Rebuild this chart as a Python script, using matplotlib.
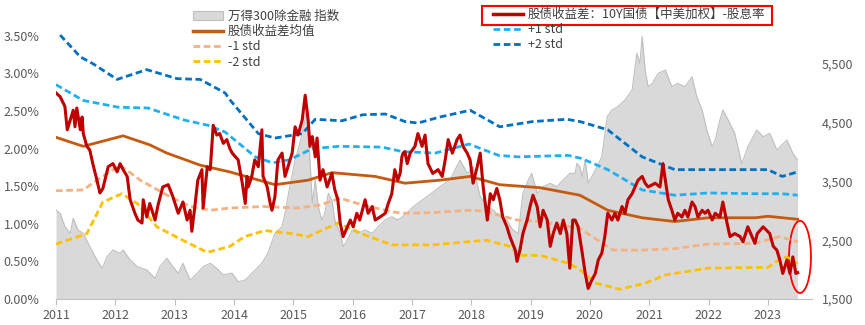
import matplotlib
matplotlib.use('Agg')
import matplotlib.pyplot as plt
from matplotlib.patches import Rectangle, Ellipse, Patch
from matplotlib.lines import Line2D
from matplotlib.ticker import FuncFormatter

plt.rcParams['font.family'] = ['Noto Sans CJK SC', 'DejaVu Sans']

# ---------------- data ----------------
years = list(range(2011, 2024))
year_labels = [str(y) for y in years]
left_ticks = [0.0, 0.5, 1.0, 1.5, 2.0, 2.5, 3.0, 3.5]
right_ticks = [1500, 2500, 3500, 4500, 5500]

# 万得300除金融 指数 (right axis)
idx_t = [2011.00, 2011.07, 2011.15, 2011.24, 2011.29, 2011.37, 2011.46, 2011.57, 2011.69, 2011.78,
         2011.86, 2011.96, 2012.08, 2012.13, 2012.25, 2012.37, 2012.53, 2012.67, 2012.75, 2012.87,
         2012.97, 2013.06, 2013.14, 2013.26, 2013.38, 2013.48, 2013.60, 2013.71, 2013.82, 2013.93,
         2013.97, 2014.07, 2014.19, 2014.30, 2014.47, 2014.57, 2014.69, 2014.81, 2014.86, 2014.94,
         2015.03, 2015.11, 2015.16, 2015.23, 2015.26, 2015.32, 2015.37, 2015.42, 2015.48, 2015.53,
         2015.59, 2015.65, 2015.70, 2015.79, 2015.84, 2015.91, 2015.99, 2016.09, 2016.21, 2016.33,
         2016.43, 2016.55, 2016.66, 2016.76, 2016.88, 2017.02, 2017.25, 2017.47, 2017.64, 2017.81,
         2017.93, 2018.03, 2018.15, 2018.27, 2018.37, 2018.48, 2018.60, 2018.70, 2018.79, 2018.87,
         2018.96, 2019.02, 2019.11, 2019.21, 2019.33, 2019.44, 2019.55, 2019.66, 2019.75, 2019.78,
         2019.83, 2019.87, 2019.92, 2019.97, 2020.03, 2020.09, 2020.20, 2020.29, 2020.37, 2020.47,
         2020.59, 2020.71, 2020.79, 2020.84, 2020.88, 2020.93, 2020.98, 2021.05, 2021.15, 2021.27,
         2021.38, 2021.48, 2021.60, 2021.72, 2021.80, 2021.89, 2021.97, 2022.06, 2022.11, 2022.19,
         2022.24, 2022.33, 2022.44, 2022.56, 2022.66, 2022.81, 2022.92, 2023.03, 2023.15, 2023.32,
         2023.42, 2023.50]
idx_v = [3015, 2959, 2731, 2618, 2874, 2674, 2618, 2390, 2164, 2022,
         2220, 2334, 2278, 2334, 2164, 2050, 1994, 1852, 2050, 2193,
         2050, 1937, 2108, 1823, 1937, 2050, 2108, 2022, 1908, 1937,
         1937, 1794, 1823, 1937, 2108, 2278, 2618, 2731, 2959, 3411,
         3866, 4150, 4376, 4717, 4262, 3129, 3526, 3071, 2845, 2959,
         3299, 3185, 2845, 2618, 2390, 2504, 2674, 2618, 2674, 2618,
         2731, 2845, 2901, 2845, 2930, 3071, 3241, 3411, 3526, 3866,
         3639, 3752, 3241, 3071, 3015, 2901, 2845, 2674, 2618, 3299,
         3526, 3639, 3299, 3411, 3469, 3411, 3526, 3639, 3639, 3809,
         3752, 3582, 3866, 3469, 3582, 3696, 3922, 4603, 4717, 4773,
         4887, 5057, 5682, 5511, 5965, 5398, 5114, 5170, 5341, 5398,
         5114, 5170, 5114, 5284, 4944, 4717, 4376, 4092, 4206, 4547,
         4717, 4547, 4320, 3800, 4092, 4376, 4262, 4320, 4036, 4206,
         3980, 3866]

# 股债收益差 (%)
spread_t = [2011.00, 2011.07, 2011.15, 2011.19, 2011.24, 2011.29, 2011.32, 2011.35, 2011.41, 2011.44,
            2011.46, 2011.52, 2011.57, 2011.62, 2011.69, 2011.74, 2011.79, 2011.88, 2011.96, 2012.03,
            2012.08, 2012.13, 2012.20, 2012.25, 2012.33, 2012.38, 2012.45, 2012.47, 2012.53, 2012.58,
            2012.67, 2012.72, 2012.80, 2012.89, 2012.97, 2013.06, 2013.14, 2013.21, 2013.26, 2013.29,
            2013.34, 2013.39, 2013.46, 2013.48, 2013.55, 2013.60, 2013.65, 2013.71, 2013.76, 2013.82,
            2013.88, 2013.93, 2013.97, 2014.07, 2014.14, 2014.19, 2014.22, 2014.24, 2014.30, 2014.35,
            2014.41, 2014.47, 2014.49, 2014.56, 2014.61, 2014.64, 2014.69, 2014.74, 2014.81, 2014.86,
            2014.91, 2014.98, 2015.03, 2015.08, 2015.15, 2015.20, 2015.25, 2015.28, 2015.32, 2015.37,
            2015.40, 2015.45, 2015.50, 2015.57, 2015.65, 2015.70, 2015.75, 2015.79, 2015.84, 2015.91,
            2015.96, 2016.01, 2016.07, 2016.12, 2016.21, 2016.26, 2016.33, 2016.38, 2016.46, 2016.55,
            2016.60, 2016.66, 2016.71, 2016.76, 2016.80, 2016.83, 2016.85, 2016.88, 2016.92, 2016.97,
            2017.05, 2017.10, 2017.17, 2017.22, 2017.27, 2017.35, 2017.44, 2017.51, 2017.56, 2017.61,
            2017.68, 2017.76, 2017.81, 2017.86, 2017.93, 2017.98, 2018.03, 2018.10, 2018.15, 2018.20,
            2018.27, 2018.32, 2018.37, 2018.43, 2018.48, 2018.53, 2018.60, 2018.65, 2018.74, 2018.77,
            2018.82, 2018.87, 2018.94, 2018.99, 2019.04, 2019.11, 2019.16, 2019.21, 2019.28, 2019.33,
            2019.38, 2019.44, 2019.50, 2019.55, 2019.61, 2019.66, 2019.71, 2019.75, 2019.80, 2019.87,
            2019.92, 2019.97, 2020.03, 2020.09, 2020.14, 2020.20, 2020.25, 2020.30, 2020.37, 2020.42,
            2020.47, 2020.54, 2020.59, 2020.64, 2020.71, 2020.76, 2020.81, 2020.88, 2020.93, 2020.98,
            2021.10, 2021.18, 2021.23, 2021.27, 2021.32, 2021.38, 2021.43, 2021.48, 2021.55, 2021.60,
            2021.65, 2021.72, 2021.77, 2021.82, 2021.89, 2021.94, 2021.99, 2022.06, 2022.11, 2022.19,
            2022.24, 2022.31, 2022.36, 2022.44, 2022.53, 2022.58, 2022.66, 2022.73, 2022.78, 2022.82,
            2022.92, 2023.03, 2023.09, 2023.15, 2023.20, 2023.25, 2023.32, 2023.37, 2023.42, 2023.47,
            2023.50]
spread_v = [2.74, 2.69, 2.56, 2.25, 2.38, 2.51, 2.29, 2.54, 2.25, 2.42,
            2.20, 2.03, 1.98, 1.80, 1.58, 1.41, 1.47, 1.76, 1.80, 1.69,
            1.80, 1.72, 1.63, 1.32, 1.14, 1.05, 1.01, 1.32, 1.09, 1.27,
            1.05, 1.25, 1.49, 1.52, 1.36, 1.14, 1.29, 1.05, 1.18, 0.90,
            1.23, 1.58, 1.72, 1.21, 1.76, 1.72, 2.31, 2.18, 2.20, 2.07,
            2.12, 2.00, 1.94, 1.85, 1.54, 1.27, 1.63, 1.49, 1.63, 1.85,
            1.76, 2.25, 1.63, 1.49, 1.27, 1.18, 1.36, 1.85, 1.94, 1.63,
            1.76, 1.94, 2.29, 2.18, 2.38, 2.71, 2.38, 2.03, 2.16, 1.89,
            2.14, 1.58, 1.72, 1.49, 1.67, 1.45, 1.32, 1.01, 0.83, 0.96,
            1.05, 0.96, 1.14, 1.05, 1.32, 1.14, 1.23, 1.05, 1.09, 1.14,
            1.27, 1.40, 1.72, 1.58, 1.67, 1.89, 1.94, 1.96, 1.80, 1.94,
            2.03, 2.20, 2.03, 2.18, 1.80, 1.67, 1.72, 1.63, 1.85, 2.12,
            1.94, 2.12, 2.18, 2.03, 1.94, 1.85, 1.54, 1.76, 1.94, 1.49,
            1.05, 1.40, 1.32, 1.47, 1.32, 1.09, 0.96, 0.83, 0.65, 0.50,
            0.65, 0.87, 1.05, 1.23, 1.38, 1.23, 0.96, 1.18, 1.05, 0.70,
            0.87, 1.01, 0.87, 1.05, 0.87, 0.41, 1.05, 1.05, 0.96, 0.61,
            0.34, 0.14, 0.25, 0.34, 0.52, 0.61, 0.83, 1.14, 1.05, 1.14,
            1.05, 1.23, 1.14, 1.32, 1.40, 1.49, 1.58, 1.63, 1.54, 1.49,
            1.54, 1.49, 1.80, 1.58, 1.32, 1.18, 1.05, 1.14, 1.09, 1.18,
            1.09, 1.29, 1.23, 1.09, 1.18, 1.14, 1.18, 1.05, 1.14, 1.09,
            1.29, 1.01, 0.83, 0.87, 0.83, 0.76, 0.96, 0.83, 0.74, 0.87,
            0.96, 0.87, 0.70, 0.65, 0.52, 0.34, 0.52, 0.34, 0.56, 0.34,
            0.35]

mean_t = [2011.00, 2011.46, 2012.13, 2012.58, 2012.87, 2013.43, 2013.93, 2014.69, 2015.25, 2015.65,
          2016.38, 2016.88, 2017.47, 2017.98, 2018.48, 2019.16, 2019.83, 2020.30, 2020.88, 2021.43,
          2021.99, 2022.78, 2023.00, 2023.50]
mean_v = [2.15, 2.03, 2.17, 2.05, 1.94, 1.78, 1.69, 1.52, 1.58, 1.68,
          1.63, 1.54, 1.58, 1.63, 1.52, 1.48, 1.38, 1.18, 1.08, 1.03,
          1.08, 1.08, 1.10, 1.06]

p1_t = [2011.00, 2011.46, 2012.05, 2012.55, 2013.16, 2013.56, 2013.85, 2014.36, 2014.65, 2014.93,
        2015.32, 2015.77, 2016.49, 2016.84, 2017.39, 2017.96, 2018.46, 2018.79, 2019.63, 2019.85,
        2020.30, 2020.88, 2021.43, 2021.99, 2022.78, 2023.24, 2023.50]
p1_v = [2.85, 2.64, 2.55, 2.54, 2.38, 2.31, 2.22, 1.89, 1.81, 1.85,
        2.00, 2.03, 2.02, 1.96, 1.94, 2.06, 1.91, 1.89, 1.91, 1.87,
        1.72, 1.45, 1.38, 1.41, 1.40, 1.40, 1.38]

p2_t = [2011.07, 2011.41, 2011.62, 2012.03, 2012.53, 2013.04, 2013.43, 2013.85, 2013.93, 2014.41,
        2014.69, 2015.15, 2015.37, 2015.82, 2016.17, 2016.55, 2016.88, 2017.10, 2017.47, 2017.98,
        2018.48, 2019.04, 2019.61, 2019.83, 2020.30, 2020.88, 2021.43, 2021.99, 2022.78, 2023.00,
        2023.24, 2023.50]
p2_v = [3.51, 3.22, 3.13, 2.92, 3.05, 2.93, 2.92, 2.74, 2.65, 2.20,
        2.14, 2.20, 2.39, 2.37, 2.45, 2.46, 2.36, 2.34, 2.42, 2.51,
        2.29, 2.36, 2.39, 2.36, 2.25, 1.89, 1.72, 1.72, 1.72, 1.72,
        1.63, 1.69]

m1_t = [2011.00, 2011.46, 2011.69, 2012.08, 2012.42, 2012.92, 2013.26, 2013.60, 2013.93, 2014.49,
        2015.07, 2015.45, 2015.79, 2016.17, 2016.66, 2016.84, 2017.39, 2017.96, 2018.21, 2018.77,
        2019.16, 2019.83, 2020.17, 2020.40, 2020.88, 2021.43, 2021.99, 2022.78, 2023.20, 2023.50]
m1_v = [1.44, 1.45, 1.58, 1.78, 1.58, 1.36, 1.23, 1.18, 1.21, 1.23,
        1.21, 1.25, 1.34, 1.25, 1.16, 1.14, 1.15, 1.18, 1.17, 1.05,
        1.03, 0.94, 0.76, 0.65, 0.65, 0.67, 0.73, 0.74, 0.83, 0.76]

m2_t = [2011.00, 2011.52, 2011.79, 2012.11, 2012.37, 2012.70, 2013.14, 2013.55, 2013.93, 2014.18,
        2014.52, 2014.98, 2015.25, 2015.75, 2016.21, 2016.66, 2017.35, 2017.93, 2018.26, 2018.65,
        2018.82, 2019.16, 2019.66, 2019.85, 2020.10, 2020.50, 2020.93, 2021.27, 2021.99, 2022.78,
        2023.00, 2023.20, 2023.32, 2023.50]
m2_v = [0.73, 0.87, 1.29, 1.40, 1.27, 0.96, 0.78, 0.62, 0.70, 0.83,
        0.91, 0.87, 0.83, 1.01, 0.85, 0.72, 0.72, 0.76, 0.78, 0.70,
        0.58, 0.58, 0.47, 0.38, 0.21, 0.13, 0.21, 0.32, 0.41, 0.42,
        0.42, 0.53, 0.56, 0.47]

# ---------------- figure ----------------
W, H = 865, 325
fig = plt.figure(figsize=(W / 100, H / 100), dpi=100)
ax = fig.add_axes([56 / W, 26 / H, 756 / W, 282 / H])
ax2 = ax.twinx()
ax.set_zorder(ax2.get_zorder() + 1)
ax.patch.set_visible(False)

ax2.fill_between(idx_t, idx_v, 1500, color='#D9D9D9', lw=0)
ax2.plot(idx_t, idx_v, color='#BFBFBF', lw=0.8)

dash = (0, (2.4, 1.3))
ax.plot(m2_t, m2_v, color='#FFC000', lw=2, ls=dash)
ax.plot(m1_t, m1_v, color='#F4B183', lw=2, ls=dash)
ax.plot(p1_t, p1_v, color='#1FB0EE', lw=2, ls=dash)
ax.plot(p2_t, p2_v, color='#0070C0', lw=2, ls=dash)
ax.plot(mean_t, mean_v, color='#C55A11', lw=2)
ax.plot(spread_t, spread_v, color='#C00000', lw=2.2)

ax.set_xlim(2011, 2011 + 756 / 59.33)
ax.set_ylim(0, 3.75)
ax2.set_ylim(1500, 6300)

tc = '#595959'
ax.set_yticks(left_ticks)
ax.yaxis.set_major_formatter(FuncFormatter(lambda v, p: f"{v:.2f}%"))
ax2.set_yticks(right_ticks)
ax2.yaxis.set_major_formatter(FuncFormatter(lambda v, p: f"{int(v):,}"))
ax.set_xticks(years)
ax.set_xticklabels(year_labels)

ax.tick_params(axis='y', length=0, pad=12, labelsize=9, labelcolor=tc)
ax2.tick_params(axis='y', length=0, pad=7, labelsize=9, labelcolor=tc)
ax.tick_params(axis='x', length=4, color='#BFBFBF', pad=3, labelsize=9, labelcolor=tc)
for a in (ax, ax2):
    for s in ('top', 'left', 'right', 'bottom'):
        a.spines[s].set_visible(False)
ax.spines['bottom'].set_visible(True)
ax.spines['bottom'].set_color('#BFBFBF')

# red ellipse highlight
ax.add_patch(Ellipse((2023.54, 0.56), 0.37, 0.96, fill=False, ec='#FF0000', lw=1.3, clip_on=False))

# legends
h1 = [Patch(fc='#D9D9D9', ec='#BFBFBF', lw=0.8),
      Line2D([], [], color='#C55A11', lw=2.5),
      Line2D([], [], color='#F4B183', lw=2, ls=dash),
      Line2D([], [], color='#FFC000', lw=2, ls=dash)]
l1 = ['万得300除金融 指数', '股债收益差均值', '-1 std', '-2 std']
h2 = [Line2D([], [], color='#C00000', lw=2.5),
      Line2D([], [], color='#1FB0EE', lw=2, ls=dash),
      Line2D([], [], color='#0070C0', lw=2, ls=dash)]
l2 = ['股债收益差：10Y国债【中美加权】-股息率', '+1 std', '+2 std']
kw = dict(loc='upper left', bbox_transform=fig.transFigure, frameon=False, borderpad=0,
          borderaxespad=0, handlelength=2.4, handletextpad=0.4, labelspacing=0.18,
          fontsize=9, labelcolor='#404040')
leg1 = fig.legend(h1, l1, bbox_to_anchor=(193 / W, 1 - 10 / H), **kw)
leg2 = fig.legend(h2, l2, bbox_to_anchor=(493 / W, 1 - 8 / H), **kw)

fig.add_artist(Rectangle((482 / W, 1 - 25 / H), 290 / W, 19 / H, transform=fig.transFigure,
                         fill=False, ec='#FF0000', lw=1.5))

fig.savefig('out.png', dpi=100)
